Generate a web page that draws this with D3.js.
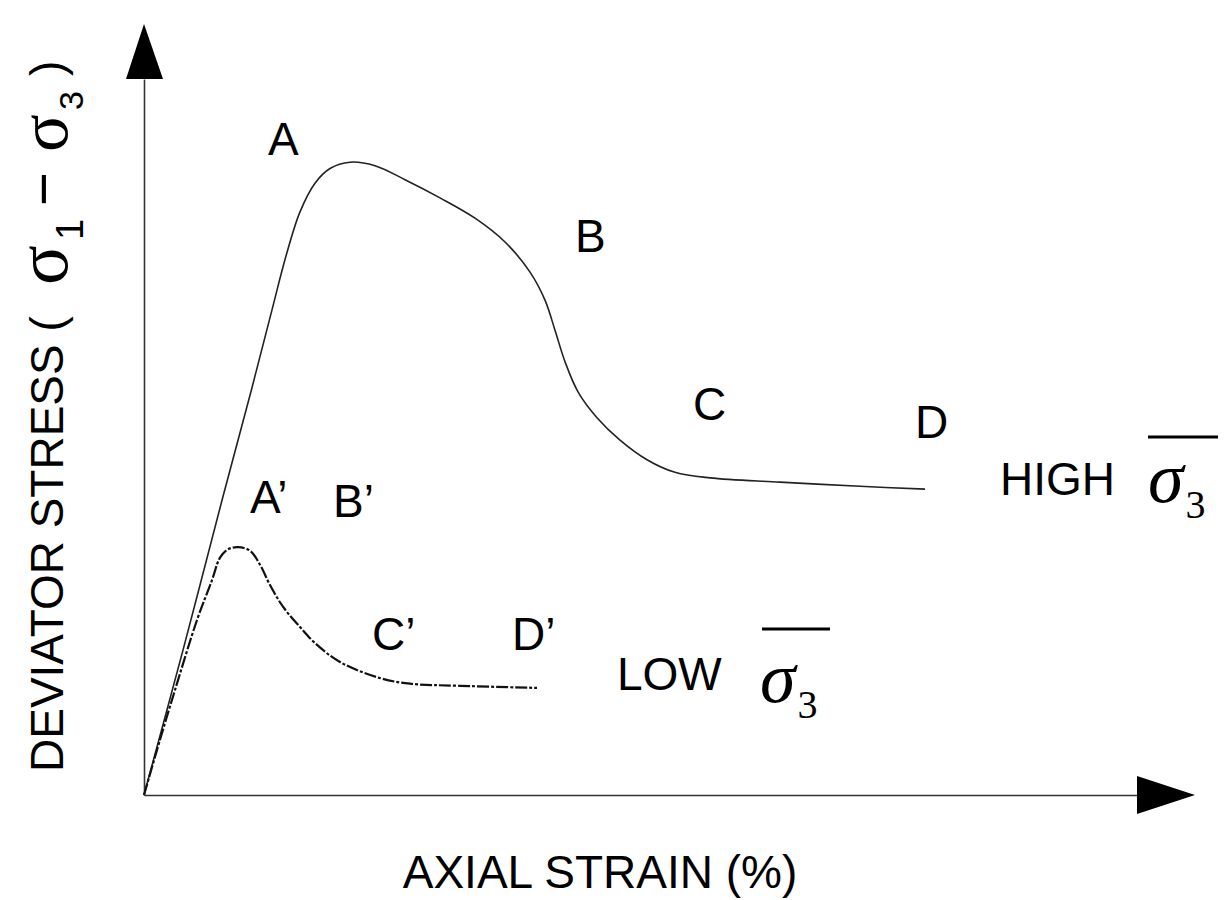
<html>
  <head>
    <title>Deviator stress vs axial strain</title>
    <script src="https://d3js.org/d3.v7.min.js"></script>
    <style>
      body { margin: 0; background: #fff; }
      .lbl { font-family: "Liberation Sans", Arial, sans-serif; font-size: 46px; fill: #000; }
      .sig { font-family: "Liberation Serif", "Times New Roman", serif; fill: #000; }
    </style>
  </head>
  <body>
    <svg id="chart" width="1229" height="900"></svg>

    <script>

    // strain (arbitrary units) and deviator stress (arbitrary units)
    const highStrain = [0, 0.39, 0.78, 1.06, 1.28, 1.42, 1.56, 1.71, 1.86, 2.06, 2.31, 2.61, 2.96, 3.31, 3.61,
                        3.86, 4.01, 4.11, 4.21, 4.34, 4.53, 4.76, 5.03, 5.31, 5.66, 6.36, 7.16, 7.81];
    const highStress = [0, 2.07, 4.21, 5.71, 6.93, 7.70, 8.33, 8.74, 8.95, 9.04, 8.99, 8.79, 8.53, 8.24, 7.90,
                        7.47, 7.07, 6.64, 6.19, 5.76, 5.39, 5.07, 4.79, 4.61, 4.53, 4.47, 4.41, 4.37];

    const lowStrain = [0, 0.16, 0.31, 0.53, 0.68, 0.76, 0.84, 0.94, 1.06, 1.16, 1.26, 1.39, 1.56, 1.71,
                       1.96, 2.36, 2.66, 3.16, 3.93];
    const lowStress = [0, 0.79, 1.50, 2.50, 3.07, 3.39, 3.51, 3.54, 3.49, 3.29, 3.00, 2.69, 2.40, 2.17,
                       1.90, 1.67, 1.59, 1.56, 1.53];

    // point labels, placed in data units (left edge, baseline)
    const pointNames = ["A", "B", "C", "D", "A\u2019", "B\u2019", "C\u2019", "D\u2019"];
    const pointX = [1.24, 4.31, 5.49, 7.71, 1.06, 1.89, 2.28, 3.68];
    const pointY = [9.14, 7.76, 5.36, 5.10, 4.03, 3.97, 2.07, 2.07];

    const svg = d3.select("svg#chart");

    const x = d3.scaleLinear().domain([0, 10]).range([144, 1144]);
    const y = d3.scaleLinear().domain([0, 10]).range([795, 95]);

    const xAxisEnd = 9.93;   // base of the x arrow head
    const yAxisEnd = 10.23;  // base of the y arrow head

    // axes
    svg.append("g")
      .attr("transform", "translate(0," + y(0) + ")")
      .call(d3.axisBottom(d3.scaleLinear().domain([0, xAxisEnd]).range([x(0), x(xAxisEnd)]))
              .tickValues([]).tickSizeOuter(0))
      .select(".domain").attr("stroke", "#333").attr("stroke-width", 1.6);

    svg.append("g")
      .attr("transform", "translate(" + x(0) + ",0)")
      .call(d3.axisLeft(d3.scaleLinear().domain([0, yAxisEnd]).range([y(0), y(yAxisEnd)]))
              .tickValues([]).tickSizeOuter(0))
      .select(".domain").attr("stroke", "#333").attr("stroke-width", 1.6);

    // arrow heads
    const xa = x(xAxisEnd), ya = y(yAxisEnd);
    svg.append("path")
      .attr("d", "M" + xa + "," + (y(0) - 19) + "L" + (xa + 58) + "," + y(0) + "L" + xa + "," + (y(0) + 19) + "Z")
      .attr("fill", "#000");
    svg.append("path")
      .attr("d", "M" + (x(0) - 18) + "," + ya + "L" + x(0) + "," + (ya - 55) + "L" + (x(0) + 19) + "," + ya + "Z")
      .attr("fill", "#000");

    // curves
    const line = d3.line()
      .x(d => x(d[0]))
      .y(d => y(d[1]))
      .curve(d3.curveCatmullRom.alpha(0.5));

    const highData = d3.zip(highStrain, highStress);
    const lowData = d3.zip(lowStrain, lowStress);

    svg.append("path").datum(highData)
      .attr("fill", "none").attr("stroke", "#222").attr("stroke-width", 1.6)
      .attr("d", line);
    svg.append("path").datum(lowData)
      .attr("fill", "none").attr("stroke", "#111").attr("stroke-width", 2.2)
      .attr("stroke-dasharray", "12,2,3,2")
      .attr("d", line);

    // point labels
    svg.selectAll("text.pt").data(pointNames)
      .join("text").attr("class", "pt lbl")
      .attr("x", (d, i) => x(pointX[i]))
      .attr("y", (d, i) => y(pointY[i]))
      .text(d => d);

    // HIGH / LOW sigma-3 labels
    function sigmaLabel(word, wx, wy, sx, sy, ox1, ox2, oy) {
      svg.append("text").attr("class", "lbl").attr("x", wx).attr("y", wy).text(word);
      const t = svg.append("text").attr("class", "sig").attr("x", sx).attr("y", sy);
      t.append("tspan").attr("font-style", "italic").attr("font-size", 72).text("\u03c3");
      t.append("tspan").attr("font-size", 40).attr("dy", 16).attr("dx", 2).text("3");
      svg.append("line").attr("x1", ox1).attr("x2", ox2).attr("y1", oy).attr("y2", oy)
        .attr("stroke", "#000").attr("stroke-width", 3);
    }
    sigmaLabel("HIGH", 1000, 495, 1148, 502, 1148, 1218, 437);
    sigmaLabel("LOW", 617, 690, 760, 702, 762, 830, 629);

    // axis titles
    svg.append("text").attr("class", "lbl")
      .attr("x", 600).attr("y", 888)
      .attr("text-anchor", "middle")
      .text("AXIAL STRAIN (%)");

    const yt = svg.append("text").attr("class", "lbl")
      .attr("transform", "translate(63,772) rotate(-90)");
    yt.append("tspan").attr("x", 0).attr("y", 0).text("DEVIATOR STRESS (");
    yt.append("tspan").attr("class", "sig").attr("x", 487).attr("y", 4).attr("font-size", 74).text("\u03c3");
    yt.append("tspan").attr("x", 532).attr("y", 20).attr("font-size", 38).text("1");
    yt.append("tspan").attr("x", 566).attr("y", 0).attr("font-size", 58).text("\u2212");
    yt.append("tspan").attr("class", "sig").attr("x", 620).attr("y", 4).attr("font-size", 70).text("\u03c3");
    yt.append("tspan").attr("x", 662).attr("y", 20).attr("font-size", 34).text("3");
    yt.append("tspan").attr("x", 696).attr("y", 0).text(")");

    </script>
  </body>
</html>
